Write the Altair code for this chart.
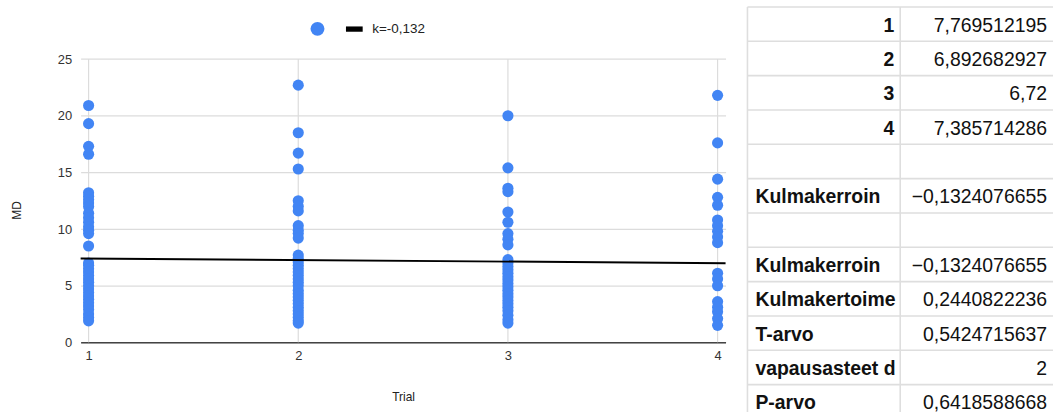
import altair as alt
import pandas as pd

# ---- scatter data: MD per trial ----
TRIALS = [1, 2, 3, 4]

MD_TRIAL_1 = [20.9, 19.3, 17.3, 16.6, 13.2, 12.9, 12.6, 12.3, 12.0, 11.4, 11.0,
              10.6, 10.2, 9.9, 9.6, 8.5, 7.0, 6.8, 6.5, 6.2, 5.9, 5.6, 5.3, 5.0,
              4.7, 4.4, 4.1, 3.8, 3.5, 3.2, 2.9, 2.5, 2.2, 1.9]
MD_TRIAL_2 = [22.7, 18.5, 16.7, 15.3, 12.5, 12.0, 11.6, 10.3, 9.9, 9.6, 9.2,
              7.7, 7.4, 7.1, 6.8, 6.5, 6.2, 5.9, 5.6, 5.3, 5.0, 4.6, 4.3, 4.0,
              3.7, 3.4, 3.1, 2.8, 2.5, 2.2, 1.9, 1.7]
MD_TRIAL_3 = [20.0, 15.4, 13.6, 13.3, 11.5, 10.6, 9.6, 9.1, 8.6, 7.3, 7.0, 6.7,
              6.4, 6.1, 5.8, 5.5, 5.2, 4.9, 4.6, 4.3, 4.0, 3.7, 3.4, 3.1, 2.8,
              2.4, 2.0, 1.7]
MD_TRIAL_4 = [21.8, 17.6, 14.4, 12.8, 12.1, 10.8, 10.3, 9.8, 9.3, 8.8, 6.1, 5.6,
              5.0, 3.6, 3.1, 2.7, 2.1, 1.5]

# ---- per-trial means and regression statistics (table) ----
TRIAL_MEANS = [7.769512195, 6.892682927, 6.72, 7.385714286]

STAT_NAMES = ["Kulmakerroin", "Kulmakerroin", "Kulmakertoime", "T-arvo",
              "vapausasteet d", "P-arvo"]
STAT_VALUES = [-0.1324076655, -0.1324076655, 0.2440822236, 0.5424715637, 2,
               0.6418588668]
STAT_ROWS = [5, 7, 8, 9, 10, 11]

POINT_LABEL = ""
TREND_LABEL = "k=-0,132"

Y_TICKS = [0, 5, 10, 15, 20, 25]

BLUE = "#4285F4"
FONT = "Liberation Sans"
DASH_PATH = "M-1.2,-0.38H1.2V0.38H-1.2Z"

# ---- layout ----
PLOT_W, PLOT_H = 648, 337
Y_MAX = 29.6
X_DOMAIN = [0.962, 4.038]
TABLE_W, TABLE_H, ROW_H = 307, 407, 34.5


def fi_number(v):
    s = str(v).replace(".", ",")
    return s.replace("-", "\u2212")


points = pd.DataFrame(
    [{"trial": t, "md": v, "series": POINT_LABEL}
     for t, vals in zip(TRIALS, [MD_TRIAL_1, MD_TRIAL_2, MD_TRIAL_3, MD_TRIAL_4])
     for v in vals]
)
means = pd.DataFrame({"trial": TRIALS, "md": TRIAL_MEANS})
vgrid = pd.DataFrame({"trial": TRIALS, "md": [Y_TICKS[0]] * 4,
                      "md_top": [Y_TICKS[-1]] * 4})

x_scale = alt.Scale(domain=X_DOMAIN, nice=False, zero=False)
y_scale = alt.Scale(domain=[0, Y_MAX], nice=False, zero=True)

x_axis = alt.Axis(values=TRIALS, format="d", grid=False, ticks=False,
                  domain=True, domainColor="#444444", domainWidth=1.5,
                  labelFontSize=13, labelColor="#333333", labelPadding=7,
                  title="Trial", titleFontSize=12, titleFontWeight="normal",
                  titleColor="#222222", titlePadding=29)
y_axis = alt.Axis(values=Y_TICKS, grid=True, gridColor="#dcdcdc",
                  gridWidth=1.2, ticks=False, domain=False,
                  labelFontSize=13, labelColor="#333333", labelPadding=9,
                  title="MD", titleFontSize=12, titleFontWeight="normal",
                  titleColor="#222222", titleX=-64, titleY=204,
                  titleBaseline="middle")

x_enc = alt.X("trial:Q", scale=x_scale, axis=x_axis)
y_enc = alt.Y("md:Q", scale=y_scale, axis=y_axis)

legend = alt.Legend(title=None, orient="none", legendX=231, legendY=15,
                    direction="horizontal", symbolSize=196, padding=0,
                    labelFont=FONT, labelFontSize=13.5, labelColor="#222222",
                    labelOffset=11, columnPadding=10, symbolStrokeWidth=0,
                    symbolOpacity=1)

grid_rules = alt.Chart(vgrid).mark_rule(color="#dcdcdc", strokeWidth=1.2).encode(
    x=x_enc, y=y_enc, y2="md_top:Q"
)

dots = alt.Chart(points).mark_point(filled=True, size=125, opacity=1,
                                    strokeWidth=0).encode(
    x=x_enc,
    y=y_enc,
    color=alt.Color("series:N",
                    scale=alt.Scale(domain=[POINT_LABEL, TREND_LABEL],
                                    range=[BLUE, "#000000"]),
                    legend=legend),
    shape=alt.Shape("series:N",
                    scale=alt.Scale(domain=[POINT_LABEL, TREND_LABEL],
                                    range=["circle", DASH_PATH]),
                    legend=legend),
)

# least-squares line through the trial means
trend = alt.Chart(means).transform_regression(
    "trial", "md", extent=X_DOMAIN
).mark_line(color="#000000", strokeWidth=2).encode(x=x_enc, y=y_enc)

scatter = alt.layer(grid_rules, dots, trend).properties(width=PLOT_W,
                                                        height=PLOT_H)

# ---- statistics table ----
cells = []
for i, (t, m) in enumerate(zip(TRIALS, TRIAL_MEANS)):
    cells.append({"row": i + 0.5, "col": "name", "text": str(t), "kind": "num"})
    cells.append({"row": i + 0.5, "col": "value", "text": fi_number(m),
                  "kind": "value"})
for r, n, v in zip(STAT_ROWS, STAT_NAMES, STAT_VALUES):
    cells.append({"row": r + 0.5, "col": "name", "text": n, "kind": "label"})
    cells.append({"row": r + 0.5, "col": "value", "text": fi_number(v),
                  "kind": "value"})
cells = pd.DataFrame(cells)

row_lines = pd.DataFrame({"row": list(range(12))})
col_lines = pd.DataFrame({"col": ["name", "value"]})

col_scale = alt.Scale(domain=["name", "value"], paddingInner=0, paddingOuter=0)
row_scale = alt.Scale(domain=[0, TABLE_H / ROW_H], reverse=True, nice=False,
                      zero=False)

h_rules = alt.Chart(row_lines).mark_rule(color="#dedede", strokeWidth=1.6).encode(
    y=alt.Y("row:Q", scale=row_scale, axis=None)
)
v_rules = alt.Chart(col_lines).mark_rule(color="#dedede", strokeWidth=1.6).encode(
    x=alt.X("col:N", scale=col_scale, axis=None, bandPosition=0)
)

text_base = alt.Chart(cells)
txt = dict(font=FONT, fontSize=19.5, baseline="middle", dy=1.5, color="#111111")

labels = text_base.transform_filter(alt.datum.kind == "label").mark_text(
    align="left", dx=8, fontWeight="bold", **txt
).encode(
    x=alt.X("col:N", scale=col_scale, axis=None, bandPosition=0),
    y=alt.Y("row:Q", scale=row_scale, axis=None),
    text="text:N",
)
nums = text_base.transform_filter(alt.datum.kind == "num").mark_text(
    align="right", dx=-6, fontWeight="bold", **txt
).encode(
    x=alt.X("col:N", scale=col_scale, axis=None, bandPosition=1),
    y=alt.Y("row:Q", scale=row_scale, axis=None),
    text="text:N",
)
values = text_base.transform_filter(alt.datum.kind == "value").mark_text(
    align="right", dx=-6, **txt
).encode(
    x=alt.X("col:N", scale=col_scale, axis=None, bandPosition=1),
    y=alt.Y("row:Q", scale=row_scale, axis=None),
    text="text:N",
)

table = alt.layer(h_rules, v_rules, labels, nums, values).properties(
    width=TABLE_W, height=TABLE_H
)

chart = alt.hconcat(scatter, table, spacing=17).properties(
    padding={"left": 11, "top": 5, "right": 0, "bottom": 0},
    background="#ffffff",
).configure(font=FONT).configure_view(stroke=None)

chart.save("out.html", embed_options={"renderer": "svg", "actions": False})
